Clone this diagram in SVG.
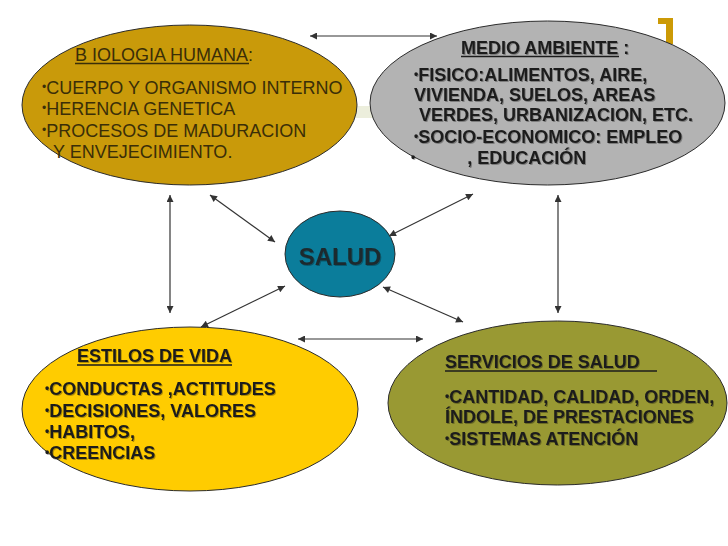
<svg xmlns="http://www.w3.org/2000/svg" width="728" height="546" viewBox="0 0 728 546">
<defs>
  <marker id="ah" viewBox="0 0 10 10" refX="10" refY="5" markerWidth="9" markerHeight="7" markerUnits="userSpaceOnUse" orient="auto-start-reverse">
    <path d="M0,0 L10,5 L0,10 z" fill="#333"/>
  </marker>
  <filter id="sh" x="-5%" y="-20%" width="110%" height="140%">
    <feDropShadow dx="1" dy="1" stdDeviation="0.4" flood-color="#000" flood-opacity="0.3"/>
  </filter>
</defs>
<style>
  .ell { stroke: #2b2b2b; stroke-width: 1; }
  .reg { font-family: "Liberation Sans", Arial, sans-serif; font-size: 18px; fill: #3a2e08; }
  .bld { font-family: "Liberation Sans", Arial, sans-serif; font-size: 18px; font-weight: bold; fill: #1c1c1c; filter: url(#sh); }
  .ul { stroke-width: 1.3; }
  .conn line { stroke: #333; stroke-width: 1.2; marker-start: url(#ah); marker-end: url(#ah); }
</style>
<rect width="728" height="546" fill="#ffffff"/>
<!-- background decoration -->
<rect x="300" y="106" width="120" height="12" fill="#ECEEDC"/>
<path d="M658,18 H673 V44 H666 V24 H658 Z" fill="#CC9A06"/>

<g id="biologia">
  <ellipse class="ell" cx="189.5" cy="105" rx="167.5" ry="80" fill="#C99A0A"/>
  <text class="reg" x="75" y="61">B IOLOGIA HUMANA:</text>
  <line class="ul" x1="75" y1="63.5" x2="249" y2="63.5" stroke="#3a2e08"/>
  <text class="reg" x="42" y="93.5"><tspan font-size="12" dy="-3">•</tspan><tspan dy="3">CUERPO Y ORGANISMO INTERNO</tspan></text>
  <text class="reg" x="42" y="115"><tspan font-size="12" dy="-3">•</tspan><tspan dy="3">HERENCIA GENETICA</tspan></text>
  <text class="reg" x="42" y="136.5"><tspan font-size="12" dy="-3">•</tspan><tspan dy="3">PROCESOS DE MADURACION</tspan></text>
  <text class="reg" x="53" y="158">Y ENVEJECIMIENTO.</text>
</g>

<g id="medio-ambiente">
  <ellipse class="ell" cx="547.5" cy="103" rx="177.5" ry="82" fill="#B3B3B3"/>
  <text class="bld" x="461" y="54">MEDIO AMBIENTE :</text>
  <line class="ul" x1="461" y1="56.5" x2="619" y2="56.5" stroke="#1c1c1c"/>
  <text class="bld" x="414" y="80.5"><tspan font-size="12" dy="-3">•</tspan><tspan dy="3">FISICO:ALIMENTOS, AIRE,</tspan></text>
  <text class="bld" x="414" y="100.5">VIVIENDA, SUELOS, AREAS</text>
  <text class="bld" x="419" y="121">VERDES, URBANIZACION, ETC.</text>
  <text class="bld" x="414" y="142.5"><tspan font-size="12" dy="-3">•</tspan><tspan dy="3">SOCIO-ECONOMICO: EMPLEO</tspan></text>
  <text class="bld" x="411" y="164"><tspan font-size="12" dy="-3">•</tspan><tspan dx="52" dy="3">, EDUCACIÓN</tspan></text>
</g>

<g id="estilos-de-vida">
  <ellipse class="ell" cx="190" cy="409" rx="168" ry="82" fill="#FFCC00"/>
  <text class="bld" x="77" y="362">ESTILOS DE VIDA</text>
  <line class="ul" x1="77" y1="365" x2="232" y2="365" stroke="#1c1c1c"/>
  <text class="bld" x="45" y="394.5"><tspan font-size="12" dy="-3">•</tspan><tspan dy="3">CONDUCTAS ,ACTITUDES</tspan></text>
  <text class="bld" x="45" y="416.5"><tspan font-size="12" dy="-3">•</tspan><tspan dy="3">DECISIONES, VALORES</tspan></text>
  <text class="bld" x="45" y="437.5"><tspan font-size="12" dy="-3">•</tspan><tspan dy="3">HABITOS,</tspan></text>
  <text class="bld" x="45" y="458.5"><tspan font-size="12" dy="-3">•</tspan><tspan dy="3">CREENCIAS</tspan></text>
</g>

<g id="servicios-de-salud">
  <ellipse class="ell" cx="557.5" cy="403" rx="169.5" ry="82" fill="#999933"/>
  <text class="bld" x="445" y="368">SERVICIOS DE SALUD</text>
  <line class="ul" x1="445" y1="371" x2="657" y2="371" stroke="#1c1c1c"/>
  <text class="bld" x="445" y="403"><tspan font-size="12" dy="-3">•</tspan><tspan dy="3">CANTIDAD, CALIDAD, ORDEN,</tspan></text>
  <text class="bld" x="445" y="423">ÍNDOLE, DE PRESTACIONES</text>
  <text class="bld" x="445" y="444.5"><tspan font-size="12" dy="-3">•</tspan><tspan dy="3">SISTEMAS ATENCIÓN</tspan></text>
</g>

<g id="salud">
  <ellipse class="ell" cx="340" cy="254" rx="55" ry="43" fill="#0B7D9B"/>
  <text x="340" y="265" text-anchor="middle" font-family="'Liberation Sans', Arial, sans-serif" font-size="24" font-weight="bold" fill="#1e2a2e" filter="url(#sh)">SALUD</text>
</g>

<g id="connectors" class="conn">
  <line x1="310" y1="36" x2="437" y2="36"/>
  <line x1="170" y1="195" x2="170" y2="313"/>
  <line x1="558" y1="195" x2="558" y2="313"/>
  <line x1="210" y1="195" x2="275" y2="242"/>
  <line x1="473" y1="194" x2="389" y2="236"/>
  <line x1="285" y1="286" x2="201" y2="327"/>
  <line x1="383" y1="287" x2="463" y2="322"/>
  <line x1="298" y1="339" x2="423" y2="339"/>
</g>
</svg>
